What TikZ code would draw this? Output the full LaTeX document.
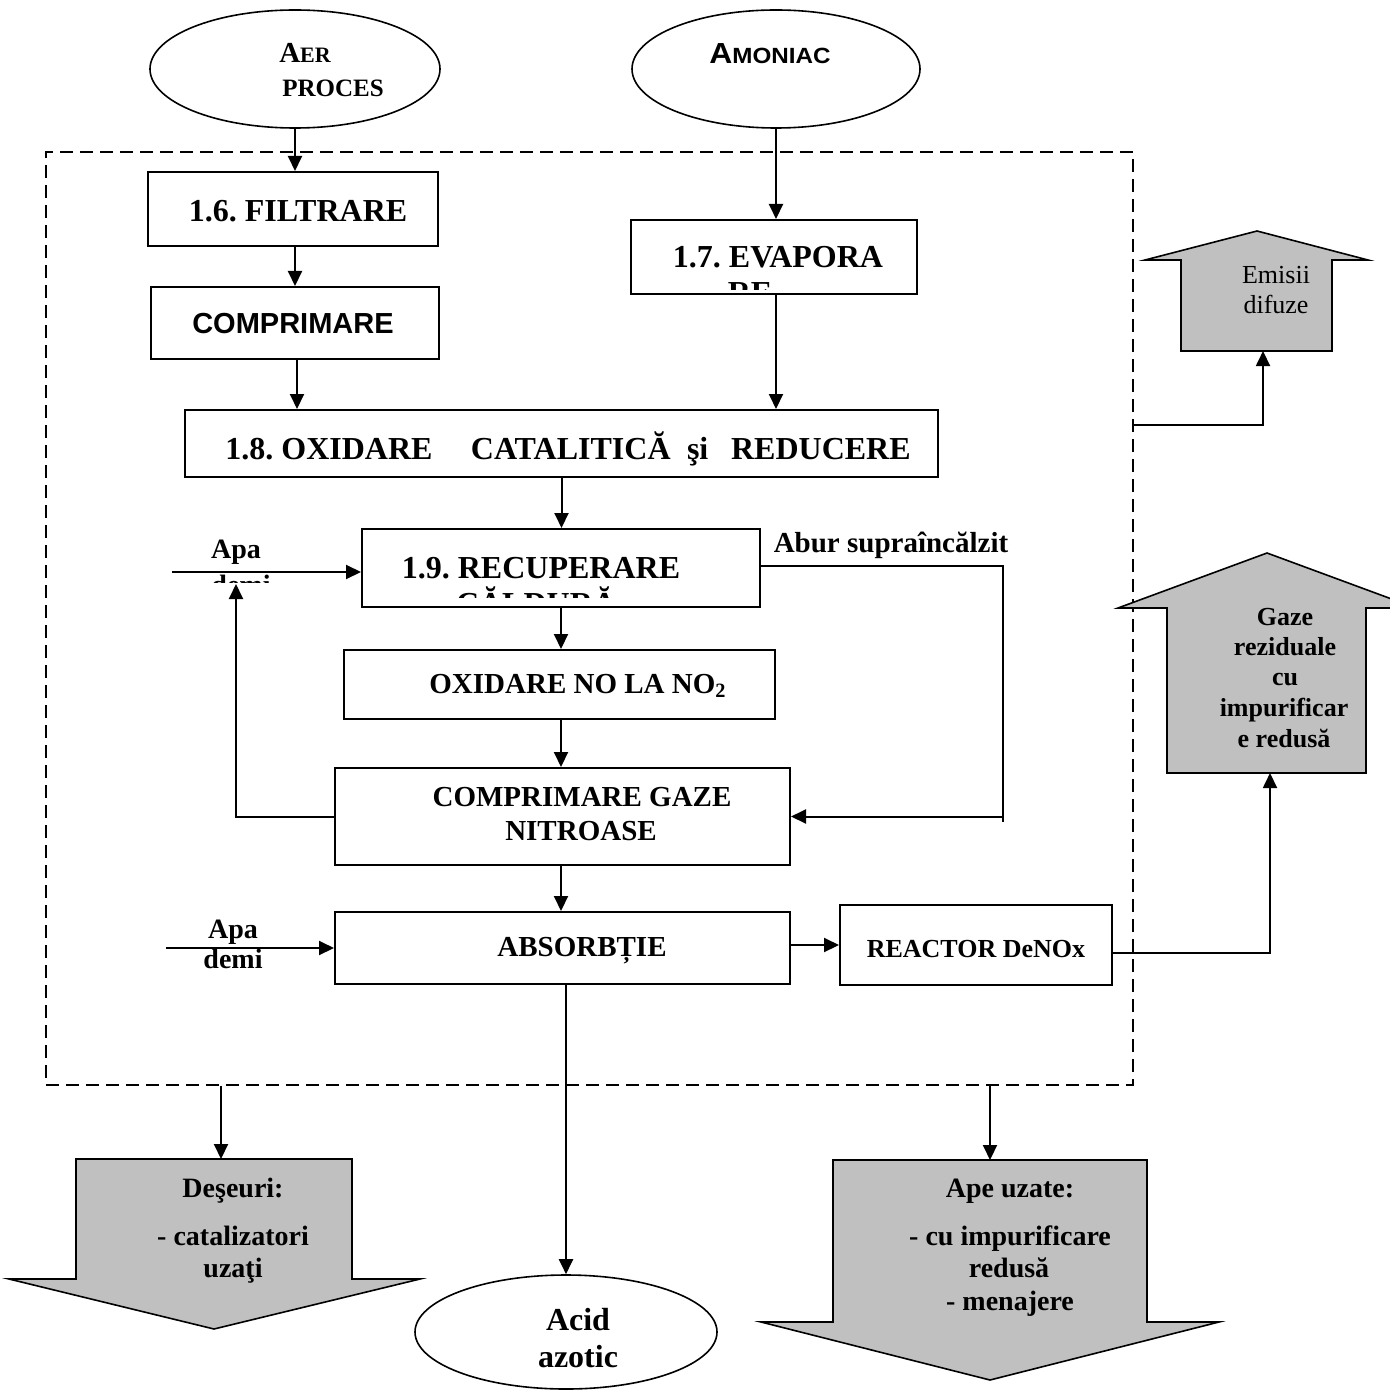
\documentclass[tikz,border=0pt]{standalone}
\usepackage{fontspec}
\usepackage{graphicx}
\setmainfont{Liberation Serif}
\newfontfamily\arialf{Liberation Sans}
\usetikzlibrary{arrows.meta,shapes.geometric}
\definecolor{silv}{HTML}{C0C0C0}
\frenchspacing
\newcommand{\fsz}[1]{\fontsize{#1}{#1}\selectfont}
\newcommand{\bx}[5]{\node[box,minimum width={(#4-#2)*0.5pt},minimum height={(#5-#3)*0.5pt}] (#1) at ({(#2+#4)/2},{(#3+#5)/2}) {};}
\begin{document}
\begin{tikzpicture}[x=0.5pt,y=-0.5pt,
  box/.style={draw,line width=1pt,inner sep=0pt},
  oval/.style={draw,ellipse,line width=0.8pt,inner sep=0pt},
  tx/.style={inner sep=0pt,anchor=base},
  arr/.style={line width=1pt,-{Triangle[length=7.5pt,width=7pt]}},
  ln/.style={line width=0.8pt},
  blk/.style={draw,line width=0.8pt,fill=silv,line join=miter},
  zone/.style={draw,line width=0.7pt,dash pattern=on 6.5pt off 3.5pt,inner sep=0pt}]
\useasboundingbox (0,0) rectangle (1389,1390);

% dashed zone
\node[zone,minimum width={(1133-46)*0.5pt},minimum height={(1085-152)*0.5pt}] (zn) at ({(46+1133)/2},{(152+1085)/2}) {};

% block arrows
\draw[blk] (1257,231) -- (1368,260) -- (1332,260) -- (1332,351) -- (1181,351) -- (1181,260) -- (1145,260) -- cycle;
\draw[blk] (1267,553) -- (1416,608) -- (1366,608) -- (1366,773) -- (1167,773) -- (1167,608) -- (1118,608) -- cycle;
\draw[blk] (76,1159) -- (352,1159) -- (352,1279) -- (420,1279) -- (214,1329) -- (9,1279) -- (76,1279) -- cycle;
\draw[blk] (833,1160) -- (1147,1160) -- (1147,1322) -- (1219,1322) -- (990,1380) -- (761,1322) -- (833,1322) -- cycle;
\coordinate (emB) at (1263,351);
\coordinate (gzB) at (1270,773);
\coordinate (deT) at (221,1159);
\coordinate (apT) at (990,1160);
\coordinate (emY) at (1200,425);

% ellipses
\node[oval,minimum width=145pt,minimum height=59pt] (aer) at (295,69) {};
\node[oval,minimum width=144pt,minimum height=59pt] (amon) at (776,69) {};
\node[oval,minimum width=151pt,minimum height=57pt] (acid) at (566,1332) {};

% boxes
\bx{filt}{148}{172}{438}{246}
\bx{comp}{151}{287}{439}{359}
\bx{evap}{631}{220}{917}{294}
\bx{oxcat}{185}{410}{938}{477}
\bx{recup}{362}{529}{760}{607}
\bx{oxno}{344}{650}{775}{719}
\bx{compg}{335}{768}{790}{865}
\bx{absorb}{335}{912}{790}{984}
\bx{reactor}{840}{905}{1112}{985}

% texts
\node[tx] (tA1) at (305,63) {\bfseries\fsz{14.5}A\fsz{11}ER};
\node[tx] (tA2) at (333,97) {\bfseries\fsz{12.5}PROCES};
\node[tx] (tB1) at (770,64) {\scalebox{1.1}[1]{\arialf\bfseries\fsz{14.5}A\fsz{11}MONIAC}};
\node[tx] (t1) at (298,222) {\bfseries\fsz{16}1.6. FILTRARE};
\node[tx] (t2) at (293,334) {\arialf\bfseries\fsz{14.5}COMPRIMARE};
\begin{scope}
\clip (631,220) rectangle (917,290);
\node[tx] (t3) at (778,268) {\bfseries\fsz{16}1.7. EVAPORA};
\node[tx] (t3b) at (750,304) {\bfseries\fsz{16}RE};
\end{scope}
\node[tx,anchor=base west] (t4) at (225,459) {\bfseries\fsz{16}1.8. OXIDARE\hspace{19.2pt}CATALITICĂ\hspace{8.2pt}şi\hspace{11.4pt}REDUCERE};
\begin{scope}
\clip (362,529) rectangle (760,597);
\node[tx] (t5) at (541,578) {\bfseries\fsz{16}1.9. RECUPERARE};
\node[tx] (t5b) at (536,614) {\bfseries\fsz{16}CĂLDURĂ};
\end{scope}
\node[tx] (t6) at (236,558) {\bfseries\fsz{14}Apa};
\begin{scope}
\clip (150,562) rectangle (330,582);
\node[tx] (t6b) at (241,594) {\bfseries\fsz{14}demi};
\end{scope}
\node[tx] (t7) at (891,552) {\bfseries\fsz{14.5}Abur supraîncălzit};
\node[tx] (t8) at (578,693) {\bfseries\fsz{14.5}OXIDARE NO LA NO\textsubscript{2}};
\node[tx] (t9) at (582,806) {\bfseries\fsz{14.5}COMPRIMARE GAZE};
\node[tx] (t9b) at (581,840) {\bfseries\fsz{14.5}NITROASE};
\node[tx] (t10) at (582,956) {\bfseries\fsz{14.5}ABSORBȚIE};
\node[tx] (t11) at (233,938) {\bfseries\fsz{14}Apa};
\node[tx] (t11b) at (233,968) {\bfseries\fsz{14}demi};
\node[tx] (t12) at (976,957) {\bfseries\fsz{13}REACTOR DeNOx};
\node[tx] (t13) at (1276,284) {\fsz{13}Emisii};
\node[tx] (t13b) at (1276,314) {\fsz{13}difuze};
\node[tx] (g1) at (1285,625) {\bfseries\fsz{13}Gaze};
\node[tx] (g2) at (1285,655) {\bfseries\fsz{13}reziduale};
\node[tx] (g3) at (1285,685) {\bfseries\fsz{13}cu};
\node[tx] (g4) at (1284,716) {\bfseries\fsz{13}impurificar};
\node[tx] (g5) at (1284,747) {\bfseries\fsz{13}e redusă};
\node[tx] (d1) at (233,1197) {\bfseries\fsz{14}Deşeuri:};
\node[tx] (d2) at (233,1245) {\bfseries\fsz{14}- catalizatori};
\node[tx] (d3) at (233,1277) {\bfseries\fsz{14}uzaţi};
\node[tx] (w1) at (1010,1197) {\bfseries\fsz{14}Ape uzate:};
\node[tx] (w2) at (1010,1245) {\bfseries\fsz{14}- cu impurificare};
\node[tx] (w3) at (1009,1277) {\bfseries\fsz{14}redusă};
\node[tx] (w4) at (1010,1310) {\bfseries\fsz{14}- menajere};
\node[tx] (c1) at (578,1330) {\bfseries\fsz{16}Acid};
\node[tx] (c2) at (578,1367) {\bfseries\fsz{16}azotic};

% connectors
\draw[arr] (aer.south) -- (aer.south |- filt.north);
\draw[arr] (amon.south) -- (amon.south |- evap.north);
\draw[arr] (filt.south -| aer.south) -- (comp.north -| aer.south);
\draw[arr] ([xshift=1pt]comp.south) -- ([xshift=1pt]comp.south |- oxcat.north);
\draw[arr] (evap.south -| amon.south) -- (oxcat.north -| amon.south);
\draw[arr] (oxcat.south) -- (oxcat.south |- recup.north);
\draw[arr] (recup.south) -- (recup.south |- oxno.north);
\draw[arr] (oxno.south -| recup.south) -- (compg.north -| recup.south);
\draw[arr] (compg.south -| recup.south) -- (absorb.north -| recup.south);
\draw[arr] (absorb.south -| acid.north) -- (acid.north);
\draw[arr] (absorb.east |- reactor.west) -- (reactor.west);
\draw[arr,line width=0.9pt] ([yshift=-4pt]reactor.east) -| (gzB);
\coordinate (apa1) at (172,572);
\draw[arr] (apa1) -- (apa1 -| recup.west);
\coordinate (ret) at (236,584);
\draw[arr] (compg.west) -| (ret);
\coordinate (ab1) at (1003,566);
\coordinate (ab2) at (1003,822);
\draw[ln] (recup.east |- ab1) -- (ab1) -- (ab2);
\draw[arr] (compg.east -| ab2) -- (compg.east);
\coordinate (apa2) at (166,948);
\draw[arr] (apa2) -- (apa2 -| absorb.west);
\draw[arr,line width=0.9pt] (zn.east |- emY) -| (emB);
\draw[arr] (deT |- zn.south) -- (deT);
\draw[arr] (apT |- zn.south) -- (apT);
\end{tikzpicture}
\end{document}
